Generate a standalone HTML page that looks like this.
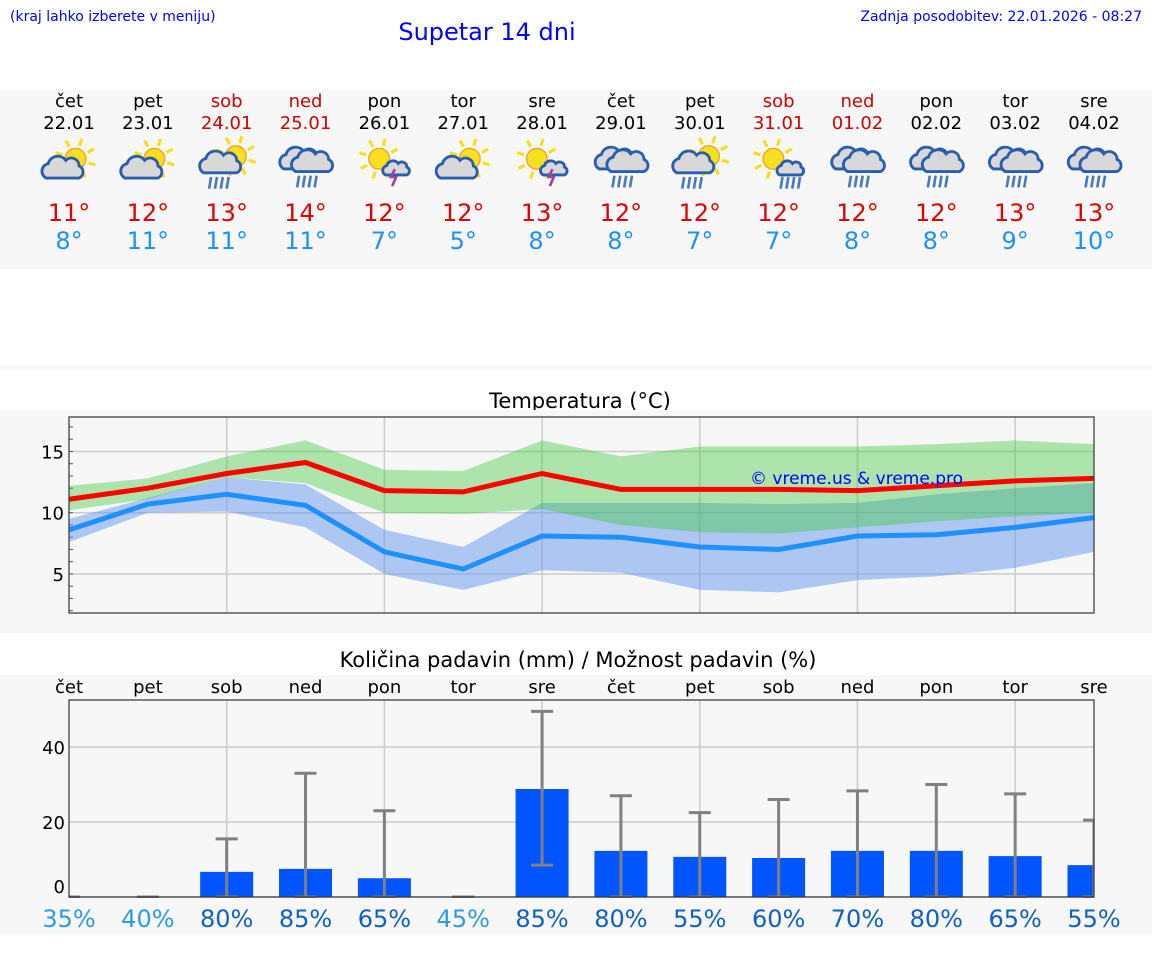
<!DOCTYPE html>
<html><head><meta charset="utf-8">
<style>
html,body{margin:0;padding:0;background:#fff;width:1152px;height:975px;overflow:hidden;font-family:"DejaVu Sans","Liberation Sans",sans-serif}
svg text{font-family:"DejaVu Sans","Liberation Sans",sans-serif}
</style></head>
<body>
<svg id="s" width="1152" height="975" xmlns="http://www.w3.org/2000/svg">
<text x="10" y="21" font-size="14" fill="#0000ff">(kraj lahko izberete v meniju)</text>
<text x="487" y="40" font-size="24" fill="#0000ff" text-anchor="middle">Supetar 14 dni</text>
<text x="1142" y="21" font-size="14" fill="#0000ff" text-anchor="end">Zadnja posodobitev: 22.01.2026 - 08:27</text>
<rect x="0" y="90" width="1152" height="179" fill="#f7f7f7"/>
<rect x="0" y="365" width="1152" height="5" fill="#f7f7f7"/>
<text x="580" y="408" font-size="21" fill="#000" text-anchor="middle">Temperatura (°C)</text>
<rect x="0" y="410" width="1152" height="223" fill="#f7f7f7"/>
<text x="578" y="667" font-size="21" fill="#000" text-anchor="middle">Količina padavin (mm) / Možnost padavin (%)</text>
<rect x="0" y="675" width="1152" height="260" fill="#f7f7f7"/>
<g id="g"></g>
</svg>
<script>
const days=["čet","pet","sob","ned","pon","tor","sre","čet","pet","sob","ned","pon","tor","sre"];
const dates=["22.01","23.01","24.01","25.01","26.01","27.01","28.01","29.01","30.01","31.01","01.02","02.02","03.02","04.02"];
const icons=["sc","sc","scr","cr","st","sc","st","cr","scr","ssr","cr","cr","cr","cr"];
const dayMax=[11,12,13,14,12,12,13,12,12,12,12,12,13,13];
const dayMin=[8,11,11,11,7,5,8,8,7,7,8,8,9,10];
const tMax=[11.1,12.0,13.2,14.1,11.8,11.7,13.2,11.9,11.9,11.9,11.8,12.2,12.6,12.8];
const tMaxHi=[12.2,12.8,14.6,15.9,13.5,13.4,15.9,14.6,15.4,15.4,15.4,15.6,15.9,15.6];
const tMaxLo=[10.2,11.1,12.9,12.4,10.0,9.9,10.3,9.0,8.4,8.3,8.8,9.3,9.7,10.0];
const tMin=[8.6,10.7,11.5,10.6,6.8,5.4,8.1,8.0,7.2,7.0,8.1,8.2,8.8,9.6];
const tMinHi=[9.5,11.2,12.9,12.3,8.6,7.2,10.8,10.8,10.8,10.7,10.8,11.5,12.0,12.4];
const tMinLo=[7.6,10.0,10.1,8.8,5.0,3.7,5.3,5.1,3.7,3.5,4.5,4.8,5.5,6.8];
const tTicks=[5,10,15];
const precip=[0,0,6.7,7.5,5.0,0,28.8,12.3,10.7,10.4,12.3,12.3,10.9,8.5];
const precipHi=[0,0,15.5,33,23,0,49.5,27,22.5,26,28.3,30,27.5,20.5];
const precipLo=[0,0,0,0,0,0,8.5,0,0,0,0,0,0,0];
const chance=[35,40,80,85,65,45,85,80,55,60,70,80,65,55];
const pTicks=[0,20,40];
const NS="http://www.w3.org/2000/svg";
const G=document.getElementById('g');
function el(t,a,p){const e=document.createElementNS(NS,t);for(const k in a)e.setAttribute(k,a[k]);(p||G).appendChild(e);return e;}
const X0=69,X1=1094;
const xs=i=>X0+i*(X1-X0)/13;
const yT=v=>512.7-(v-10)*12.25;
const yP=v=>897-v*3.75;
const red=new Set([2,3,9,10]);
days.forEach((d,i)=>{
 const x=xs(i);
 let t=el('text',{x:x,y:107,'font-size':18,fill:red.has(i)?'#cc0000':'#000','text-anchor':'middle'});t.textContent=d;
 
 
 t=el('text',{x:x,y:129,'font-size':18,fill:red.has(i)?'#cc0000':'#000','text-anchor':'middle'});t.textContent=dates[i];
 
 
 t=el('text',{x:x,y:221,'font-size':24,fill:'#dd0000','text-anchor':'middle'});t.textContent=dayMax[i]+'°';
 
 
 t=el('text',{x:x,y:249,'font-size':24,fill:'#1e90ff','text-anchor':'middle'});t.textContent=dayMin[i]+'°';
 
 
 const g=el('g',{transform:'translate('+x+',164) scale(1.3)'});
 
 
 drawIcon(g,icons[i]);
});
function sun(g,cx,cy,r){
 for(let k=0;k<8;k++){const a=k*Math.PI/4+0.3;el('line',{x1:cx+Math.cos(a)*(r+2.5),y1:cy+Math.sin(a)*(r+2.5),x2:cx+Math.cos(a)*(r+8),y2:cy+Math.sin(a)*(r+8),stroke:'#f5e020','stroke-width':2.5},g);}
 el('circle',{cx:cx,cy:cy,r:r,fill:'#f8e020',stroke:'#f0a020','stroke-width':1},g);
}
function cl(g,cx,cy,s){
 const p=`M-15,8 A7,7 0 0 1 -13,-5 A9,9 0 0 1 3,-8 A7,7 0 0 1 15,-3 A6,6 0 0 1 15,8 Z`;
 el('path',{d:p,fill:'#d8d8d8',stroke:'#2a5cb0','stroke-width':2.2/s,transform:`translate(${cx} ${cy}) scale(${s})`},g);
}
function rain(g,cx,cy){for(let k=0;k<4;k++)el('line',{x1:cx-7+k*4.5,y1:cy,x2:cx-8.5+k*4.5,y2:cy+9,stroke:'#4a78c0','stroke-width':2},g);}
function drawIcon(g,t){
 if(t==='sc'){sun(g,5,-4,8);cl(g,-5,4,0.85);}
 else if(t==='scr'){sun(g,7,-6,8);cl(g,-5,0,0.85);rain(g,-5,10);}
 else if(t==='cr'){cl(g,-4,-3,0.85);cl(g,5,-1,0.85);rain(g,2,9);}
 else if(t==='st'){sun(g,-4,-4,8);cl(g,9,4,0.55);el('path',{d:'M8,4 l-3,6 h4 l-3,7',fill:'none',stroke:'#a040a0','stroke-width':2},g);}
 else if(t==='ssr'){sun(g,-4,-4,8);cl(g,9,4,0.55);rain(g,10,10);}
}
const tc=el('g',{});


el('rect',{x:X0,y:417,width:X1-X0,height:196,fill:'#f7f7f7'},tc);
[2,4,6,8,10,12].forEach(i=>el('line',{x1:xs(i),y1:417,x2:xs(i),y2:613,stroke:'#ccc','stroke-width':1.5},tc));
tTicks.forEach(v=>{el('line',{x1:X0,y1:yT(v),x2:X1,y2:yT(v),stroke:'#ccc','stroke-width':1.5},tc);
 const t=el('text',{x:X0-5,y:yT(v)+7,'font-size':18,'text-anchor':'end'},tc);t.textContent=v;
 
 });
for(let v=2;v<=17;v++)el('line',{x1:X0,y1:yT(v),x2:X0+4,y2:yT(v),stroke:'#555','stroke-width':1},tc);
function band(hi,lo,fill,op,name){const pts=hi.map((v,i)=>xs(i)+','+yT(v)).concat(lo.map((v,i)=>xs(i)+','+yT(v)).reverse());
 const p=el('polygon',{points:pts.join(' '),fill:fill,'fill-opacity':op},tc);
 
 }
band(tMinHi,tMinLo,'#6495ed',0.5,'min-temp-band');
band(tMaxHi,tMaxLo,'#3cc83c',0.4,'max-temp-band');
function line(v,c,name){const p=el('polyline',{points:v.map((a,i)=>xs(i)+','+yT(a)).join(' '),fill:'none',stroke:c,'stroke-width':5},tc);
 
 }
line(tMin,'#1e90ff','min-temp-line');
line(tMax,'#ff0000','max-temp-line');
el('rect',{x:X0,y:417,width:X1-X0,height:196,fill:'none',stroke:'#333','stroke-width':1.2},tc);
let wm=el('text',{x:750,y:484,'font-size':17,fill:'#0000ff'},tc);wm.textContent='© vreme.us & vreme.pro';


const pc=el('g',{});


days.forEach((d,i)=>{const t=el('text',{x:xs(i),y:693,'font-size':18,'text-anchor':'middle'},pc);t.textContent=d;
 
 });
const pl=el('svg',{x:X0,y:700,width:X1-X0,height:198,overflow:'hidden'},pc);
el('rect',{x:0,y:0,width:X1-X0,height:198,fill:'#f7f7f7'},pl);
[2,4,6,8,10,12].forEach(i=>el('line',{x1:xs(i)-X0,y1:0,x2:xs(i)-X0,y2:198,stroke:'#ccc','stroke-width':1.5},pl));
pTicks.forEach(v=>{el('line',{x1:0,y1:yP(v)-700,x2:X1-X0,y2:yP(v)-700,stroke:'#ccc','stroke-width':1.5},pl);
 const t=el('text',{x:X0-4,y:v===0?yP(v)-4:yP(v)+7,'font-size':18,'text-anchor':'end'},pc);t.textContent=v;
 
 });
precip.forEach((v,i)=>{const x=xs(i)-X0;
 const b=el('rect',{x:x-26.5,y:yP(v)-700,width:53,height:v*3.75,fill:'#0055ff'},pl);
 
 
 el('line',{x1:x,y1:yP(precipHi[i])-700,x2:x,y2:yP(precipLo[i])-700,stroke:'#808080','stroke-width':3},pl);
 el('line',{x1:x-11,y1:yP(precipHi[i])-700,x2:x+11,y2:yP(precipHi[i])-700,stroke:'#808080','stroke-width':3},pl);
 el('line',{x1:x-11,y1:yP(precipLo[i])-700,x2:x+11,y2:yP(precipLo[i])-700,stroke:'#808080','stroke-width':3},pl);
});
el('rect',{x:X0,y:700,width:X1-X0,height:197,fill:'none',stroke:'#333','stroke-width':1.2},pc);
chance.forEach((v,i)=>{const t=el('text',{x:xs(i),y:927,'font-size':24,'text-anchor':'middle',fill:v<50?'#3399dd':'#1060c0'},pc);t.textContent=v+'%';
 
 });
</script>
</body></html>
